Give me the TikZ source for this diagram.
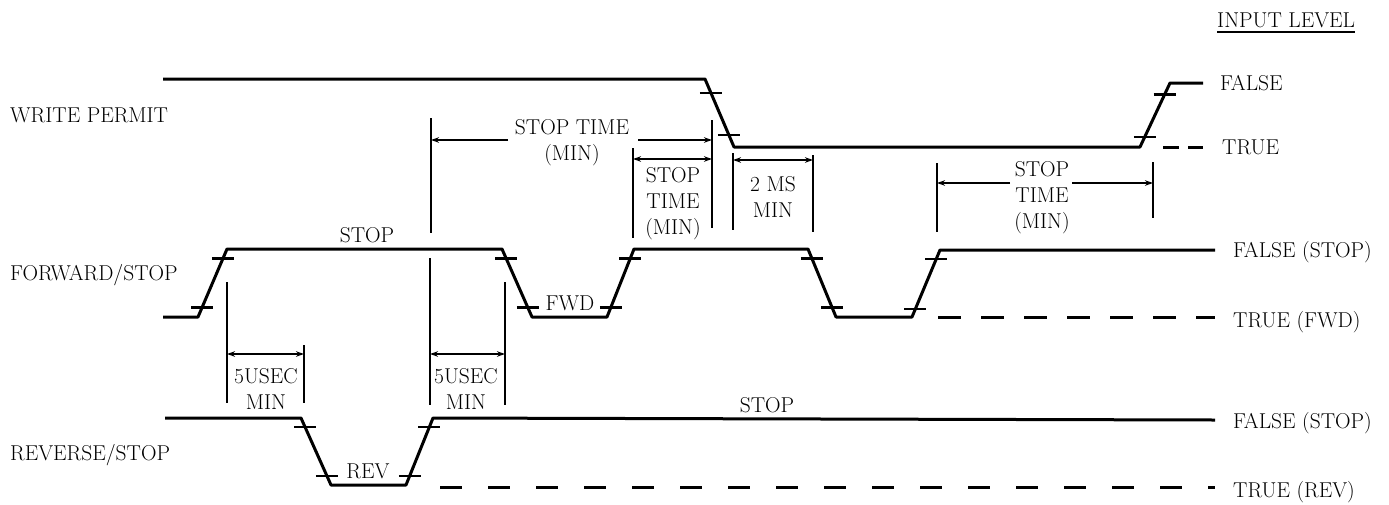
\documentclass[tikz,border=0pt]{standalone}
\usetikzlibrary{arrows.meta,calc}
\tikzset{
  sig/.style={line width=3pt, line join=round},
  tickst/.style={line width=2.2pt},
  vbar/.style={line width=2.6pt},
  dim/.style={line width=2pt},
  arr/.style={dim,-{Stealth[length=8pt,width=5.5pt]}},
  darr/.style={dim,{Stealth[length=8pt,width=5.5pt]}-{Stealth[length=8pt,width=5.5pt]}},
  lbl/.style={font=\fontsize{21.5}{24}\selectfont, inner sep=0pt},
  ml/.style={font=\fontsize{21.5}{26}\selectfont, inner sep=0pt, align=center},
}
\newcommand\slopeticks[4]{%
  \draw[tickst] ($(#1)!#3!(#2)$) ++(-11,0) -- ++(22,0);
  \draw[tickst] ($(#1)!#4!(#2)$) ++(-11,0) -- ++(22,0);}
\begin{document}
\begin{tikzpicture}[x=1pt,y=-1pt]
\useasboundingbox (0,0) rectangle (1389,504);
% ---------- WRITE PERMIT ----------
\coordinate (w0) at (163,79);
\coordinate (w1) at (705,79);
\coordinate (w2) at (734,147);
\coordinate (w3) at (1140,147);
\coordinate (w4) at (1170,83);
\coordinate (w5) at (1203,83);
\draw[sig] (w0) -- (w1) -- (w2) -- (w3) -- (w4) -- (w5);
\slopeticks{w1}{w2}{0.2}{0.82}
\slopeticks{w3}{w4}{0.16}{0.82}
\coordinate (wd0) at (1163,147);
\coordinate (wd1) at (1203,147);
\draw[line width=3pt, dash pattern=on 16pt off 9pt] (wd0) -- (wd1);
% ---------- FORWARD/STOP ----------
\coordinate (f0) at (163,317);
\coordinate (f1) at (198,317);
\coordinate (f2) at (227,249);
\coordinate (f3) at (502,249);
\coordinate (f4) at (532,317);
\coordinate (f5) at (607,317);
\coordinate (f6) at (634,249);
\coordinate (f7) at (808,249);
\coordinate (f8) at (836,317);
\coordinate (f9) at (912,317);
\coordinate (f10) at (940,250);
\coordinate (f11) at (1215,250);
\draw[sig] (f0) -- (f1) -- (f2) -- (f3) -- (f4) -- (f5) -- (f6) -- (f7) -- (f8) -- (f9) -- (f10) -- (f11);
\slopeticks{f1}{f2}{0.14}{0.86}
\slopeticks{f3}{f4}{0.14}{0.86}
\slopeticks{f5}{f6}{0.14}{0.86}
\slopeticks{f7}{f8}{0.14}{0.86}
\slopeticks{f9}{f10}{0.12}{0.86}
\coordinate (fd0) at (938,317);
\coordinate (fd1) at (1215,317);
\draw[line width=3pt, dash pattern=on 23pt off 20pt] (fd0) -- (fd1);
% ---------- REVERSE/STOP ----------
\coordinate (r0) at (165,418);
\coordinate (r1) at (301,418);
\coordinate (r2) at (331,485);
\coordinate (r3) at (406,485);
\coordinate (r4) at (433,418);
\coordinate (r5) at (1215,420);
\draw[sig] (r0) -- (r1) -- (r2) -- (r3) -- (r4) -- (r5);
\slopeticks{r1}{r2}{0.14}{0.86}
\slopeticks{r3}{r4}{0.14}{0.86}
\coordinate (rd0) at (440,487);
\coordinate (rd1) at (1215,487);
\draw[line width=3pt, dash pattern=on 22pt off 26pt] (rd0) -- (rd1);
% ---------- vertical markers ----------
\coordinate (v1a) at (431,118); \coordinate (v1b) at (431,233);
\coordinate (v2a) at (430,258); \coordinate (v2b) at (430,405);
\coordinate (v3a) at (712,120); \coordinate (v3b) at (712,228);
\coordinate (v4a) at (633,148); \coordinate (v4b) at (633,238);
\coordinate (v5a) at (733,153); \coordinate (v5b) at (733,230);
\coordinate (v6a) at (813,155); \coordinate (v6b) at (813,232);
\coordinate (v7a) at (937,163); \coordinate (v7b) at (937,232);
\coordinate (v8a) at (1153,162); \coordinate (v8b) at (1153,218);
\coordinate (v9a) at (227,282); \coordinate (v9b) at (227,403);
\coordinate (v10a) at (304,345); \coordinate (v10b) at (304,403);
\coordinate (v11a) at (505,282); \coordinate (v11b) at (505,405);
\foreach \v in {1,...,11} {\draw[vbar] (v\v a) -- (v\v b);}
% ---------- dimension arrows ----------
\coordinate (a1l) at (431,140); \coordinate (a1m) at (508,140);
\coordinate (a1n) at (638,140); \coordinate (a1r) at (712,140);
\draw[arr] (a1m) -- (a1l);
\draw[arr] (a1n) -- (a1r);
\coordinate (a2l) at (633,159); \coordinate (a2r) at (712,159);
\draw[darr] (a2l) -- (a2r);
\coordinate (a3l) at (733,160); \coordinate (a3r) at (813,160);
\draw[darr] (a3l) -- (a3r);
\coordinate (a4l) at (937,183); \coordinate (a4m) at (1010,183);
\coordinate (a4n) at (1072,183); \coordinate (a4r) at (1153,183);
\draw[arr] (a4m) -- (a4l);
\draw[arr] (a4n) -- (a4r);
\coordinate (a5l) at (227,354); \coordinate (a5r) at (304,354);
\draw[darr] (a5l) -- (a5r);
\coordinate (a6l) at (430,354); \coordinate (a6r) at (505,354);
\draw[darr] (a6l) -- (a6r);
% ---------- labels ----------
\node[lbl, anchor=base west] (lwp) at (10,122) {WRITE PERMIT};
\node[lbl, anchor=base west] (lfs) at (10,280) {FORWARD/STOP};
\node[lbl, anchor=base west] (lrs) at (10,460) {REVERSE/STOP};
\node[lbl, anchor=base west] (lin) at (1217,27) {INPUT LEVEL};
\draw[line width=1.3pt] ($(lin.base west)+(0,5)$) -- ($(lin.base east)+(0,5)$);
\node[lbl, anchor=base west] (lwf) at (1220,90) {FALSE};
\node[lbl, anchor=base west] (lwt) at (1222,154) {TRUE};
\node[lbl, anchor=base west] (lff) at (1233,257) {FALSE (STOP)};
\node[lbl, anchor=base west] (lft) at (1233,327) {TRUE (FWD)};
\node[lbl, anchor=base west] (lrf) at (1233,428) {FALSE (STOP)};
\node[lbl, anchor=base west] (lrt) at (1233,497) {TRUE (REV)};
\node[lbl, anchor=base] (ls1) at (367,242) {STOP};
\node[lbl, anchor=base] (ls2) at (767,412) {STOP};
\node[lbl, anchor=base] (lfwd) at (570,310) {FWD};
\node[lbl, anchor=base] (lrev) at (368,478) {REV};
\node[ml] (lst1) at (572,143) {STOP TIME\\(MIN)};
\node[ml] (lst2) at (673,204) {STOP\\TIME\\(MIN)};
\node[ml] (l2ms) at (773,197) {2 MS\\MIN};
\node[ml] (lst3) at (1042,198) {STOP\\TIME\\(MIN)};
\node[ml] (l5u1) at (266,389) {5USEC\\MIN};
\node[ml] (l5u2) at (466,389) {5USEC\\MIN};
\end{tikzpicture}
\end{document}
